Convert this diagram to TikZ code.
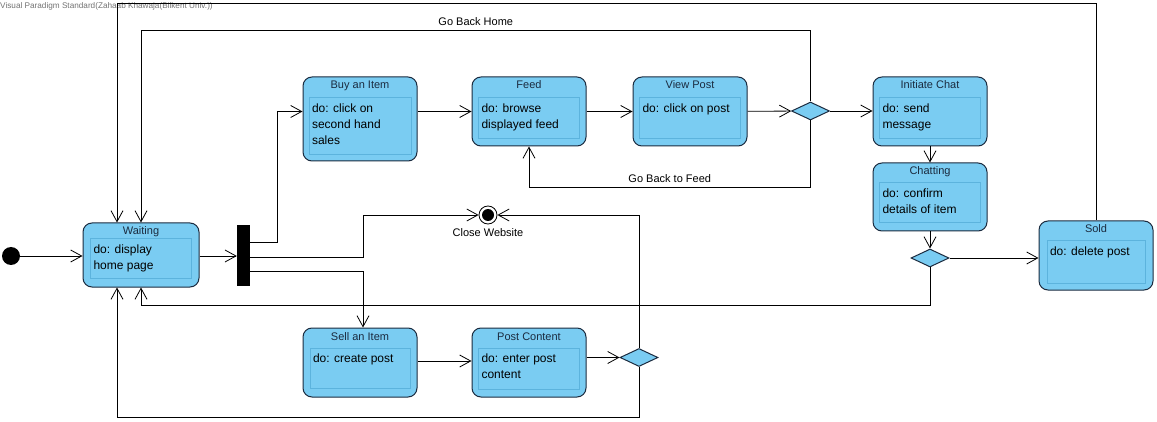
\documentclass[tikz,border=0pt]{standalone}
\usepackage{fontspec}
\setmainfont{Liberation Sans}
\usetikzlibrary{arrows.meta,positioning,shapes.geometric}
\definecolor{vpfill}{HTML}{7ACCF2}
\definecolor{vpline}{HTML}{1B2B3F}
\definecolor{vpinner}{HTML}{5CB3DD}

\begin{document}
\begin{tikzpicture}[
  x=1pt,y=-1pt,
  font=\fontsize{11}{13}\selectfont,
  line/.style={-{Straight Barb[length=11pt,width=12pt]},draw=black,line width=0.8pt},
  state/.style={draw=vpline,fill=vpfill,rounded corners=9pt,line width=1pt,
                minimum width=114pt,minimum height=69pt,inner sep=0pt},
  stitle/.style={anchor=base,inner sep=0pt,text=vpline},
  sbody/.style={draw=vpinner,anchor=north,inner xsep=3pt,inner ysep=4pt,
                font=\fontsize{12}{16}\selectfont,align=left},
  choice/.style={diamond,draw=vpline,fill=vpfill,line width=1pt,
                 minimum width=38pt,minimum height=18pt,inner sep=0pt},
  start/.style={circle,fill=black,minimum size=18pt,inner sep=0pt},
  endstate/.style={circle,draw=black,fill=white,line width=0.8pt,minimum size=18pt,
                   inner sep=0pt,path picture={\fill[black]
                   (path picture bounding box.center) circle (6pt);}},
  bar/.style={fill=black,minimum width=13pt,minimum height=61pt,inner sep=0pt}
]
\fill[white] (0,0) rectangle (1157,422);
\useasboundingbox (0,0) rectangle (1157,422);

\node[anchor=north west,inner sep=0pt,text=black!55,
  font=\fontsize{8.2}{9}\selectfont] (brand) at (0,2.5)
  {Visual Paradigm Standard(Zahaab Khawaja(Bilkent Univ.))};

% states
\node[start] (init) at (11,256) {};
\node[state,minimum width=116pt,minimum height=64pt] (waiting) at (141,255) {};
\node[stitle] at ([yshift=-12.5pt]waiting.north) {Waiting};
\node[sbody] (waitingdo) at ([yshift=-16pt]waiting.north)
  {\parbox[t][32pt][t]{95pt}{\strut do: display\\home page}};
\node[bar] (fork) at (243.5,255.5) {};

\node[state,minimum height=84pt] (buy) at (360,119) {};
\node[stitle] at ([yshift=-12.5pt]buy.north) {Buy an Item};
\node[sbody] (buydo) at ([yshift=-21pt]buy.north)
  {\parbox[t][49pt][t]{96pt}{\strut do: click on\\second hand\\sales}};

\node[state] (feed) at (529,111.5) {};
\node[stitle] at ([yshift=-12.5pt]feed.north) {Feed};
\node[sbody] (feeddo) at ([yshift=-21pt]feed.north)
  {\parbox[t][33pt][t]{95pt}{\strut do: browse\\displayed feed}};

\node[state] (viewpost) at (690,111.5) {};
\node[stitle] at ([yshift=-12.5pt]viewpost.north) {View Post};
\node[sbody] (viewpostdo) at ([yshift=-21pt]viewpost.north)
  {\parbox[t][33pt][t]{95pt}{\strut do: click on post}};

\node[choice] (postchoice) at (810.5,111) {};

\node[state] (initchat) at (930,111.5) {};
\node[stitle] at ([yshift=-12.5pt]initchat.north) {Initiate Chat};
\node[sbody] (initchatdo) at ([yshift=-21pt]initchat.north)
  {\parbox[t][33pt][t]{95pt}{\strut do: send\\message}};

\node[state,minimum height=68pt] (chatting) at (930,197) {};
\node[stitle] at ([yshift=-12.5pt]chatting.north) {Chatting};
\node[sbody] (chattingdo) at ([yshift=-20pt]chatting.north)
  {\parbox[t][32pt][t]{95pt}{\strut do: confirm\\details of item}};

\node[choice] (dealchoice) at (930,258) {};

\node[state] (sold) at (1096,255.5) {};
\node[stitle] at ([yshift=-12.5pt]sold.north) {Sold};
\node[sbody] (solddo) at ([yshift=-20pt]sold.north)
  {\parbox[t][34pt][t]{92pt}{\strut do: delete post}};

\node[endstate] (close) at (488,215) {};
\node[below=4pt of close,inner sep=0pt] (closelabel) {Close Website};

\node[state] (sell) at (360,362.5) {};
\node[stitle] at ([yshift=-12.5pt]sell.north) {Sell an Item};
\node[sbody] (selldo) at ([yshift=-20pt]sell.north)
  {\parbox[t][32pt][t]{94pt}{\strut do: create post}};

\node[state] (postcontent) at (529,362.5) {};
\node[stitle] at ([yshift=-12.5pt]postcontent.north) {Post Content};
\node[sbody] (postcontentdo) at ([yshift=-20pt]postcontent.north)
  {\parbox[t][33pt][t]{95pt}{\strut do: enter post\\content}};

\node[choice] (sellchoice) at (639,357.5) {};

\coordinate (homeup) at (141,30);

% transitions
\draw[line] (init) -- (waiting.west |- init);
\draw[line] (waiting.east |- init) -- (fork.west |- init);
\draw[line] ([yshift=13pt]fork.east) -- ++(27,0) |- (buy.west |- feed.west);
\draw[line] ([yshift=-1.5pt]fork.east) -- ++(113,0) |- (close.west);
\draw[line] ([yshift=-15.5pt]fork.east) -| ([xshift=3pt]sell.north);
\draw[line] (buy.east |- feed.east) -- (feed.west);
\draw[line] (feed) -- (viewpost);
\draw[line] (viewpost) -- (postchoice);
\draw[line] (postchoice) -- (initchat.west |- postchoice);
\draw[line] (postchoice.north) |- node[pos=0.75,above=1pt] {Go Back Home} (homeup)
  -- (waiting.north);
\draw[line] (postchoice.south) -- ++(0,67) -| node[pos=0.25,above=1pt]
  {Go Back to Feed} (feed.south);
\draw[line] (initchat) -- (chatting);
\draw[line] (chatting) -- (dealchoice);
\draw[line] (dealchoice) -- (sold.west |- dealchoice);
\draw[line] (dealchoice.south) -- ++(0,38) -| (waiting.south);
\draw[line] (sold.north) -- ++(0,-217) -| ([xshift=-24pt]waiting.north);
\draw[line] (sell.east |- 0,361) -- (postcontent.west |- 0,361);
\draw[line] (postcontent.east |- sellchoice) -- (sellchoice);
\draw[line] (sellchoice.north) |- (close.east);
\draw[line] (sellchoice.south) -- ++(0,50) -| ([xshift=-24pt]waiting.south);
\end{tikzpicture}
\end{document}
